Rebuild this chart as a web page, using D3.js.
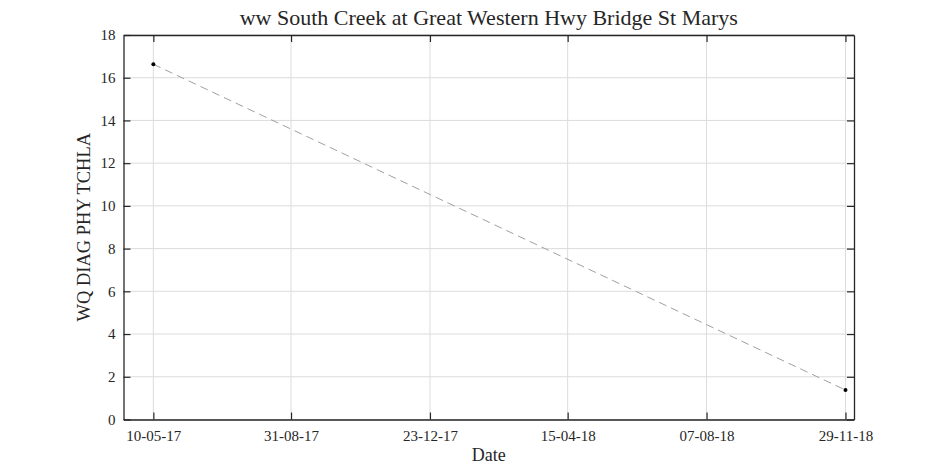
<!DOCTYPE html>
<html><head><meta charset="utf-8">
<script src="https://cdn.jsdelivr.net/npm/d3@7"></script>
<style>body{margin:0;background:#fff;} text{font-family:"Liberation Serif","Times New Roman",serif;fill:#262626;}</style>
</head><body><svg id="c" width="945" height="472"></svg>
<script>
const dates = ["2017-05-10", "2018-11-29"];
const values = [16.63, 1.38];
const xTickDates = ["2017-05-10", "2017-08-31", "2017-12-23", "2018-04-15", "2018-08-07", "2018-11-29"];
const xTickLabels = ["10-05-17", "31-08-17", "23-12-17", "15-04-18", "07-08-18", "29-11-18"];
const yTicks = [0, 2, 4, 6, 8, 10, 12, 14, 16, 18];
const title = "ww South Creek at Great Western Hwy Bridge St Marys";
const xLabel = "Date";
const yLabel = "WQ DIAG PHY TCHLA";

const parse = d3.utcParse("%Y-%m-%d");
const L = 123.5, R = 854, T = 35, B = 419.5;
const svg = d3.select("#c");
const x = d3.scaleUtc().domain([new Date(Date.UTC(2017,3,15,12)), new Date(Date.UTC(2018,11,6))]).range([L, R]);
const y = d3.scaleLinear().domain([0, 18]).range([B, T]);
const xt = xTickDates.map(parse);

// grid
const g = svg.append("g");
g.selectAll(".gx").data(xt).enter().append("line")
  .attr("x1", d => x(d)).attr("x2", d => x(d)).attr("y1", T).attr("y2", B)
  .attr("stroke", "#dcdcdc").attr("stroke-width", 1);
g.selectAll(".gy").data(yTicks).enter().append("line")
  .attr("x1", L).attr("x2", R).attr("y1", d => y(d)).attr("y2", d => y(d))
  .attr("stroke", "#dcdcdc").attr("stroke-width", 1);

// data line
const pts = dates.map((d, i) => ({d: parse(d), v: values[i]}));
svg.append("path").datum(pts)
  .attr("d", d3.line().x(p => x(p.d)).y(p => y(p.v)))
  .attr("fill", "none").attr("stroke", "#a0a0a0").attr("stroke-width", 1)
  .attr("stroke-dasharray", "8,5");
svg.selectAll(".pt").data(pts).enter().append("circle")
  .attr("cx", p => x(p.d)).attr("cy", p => y(p.v)).attr("r", 2).attr("fill", "#000");

// axes (inward ticks on all sides)
const fmt = (d, i) => xTickLabels[i];
svg.append("g").attr("transform", `translate(0,${B})`)
  .call(d3.axisBottom(x).tickValues(xt).tickFormat(fmt).tickSizeInner(-7).tickSizeOuter(0).tickPadding(11));
svg.append("g").attr("transform", `translate(0,${T})`)
  .call(d3.axisTop(x).tickValues(xt).tickFormat("").tickSizeInner(-7).tickSizeOuter(0));
svg.append("g").attr("transform", `translate(${L},0)`)
  .call(d3.axisLeft(y).tickValues(yTicks).tickFormat(d3.format("d")).tickSizeInner(-7).tickSizeOuter(0).tickPadding(8));
svg.append("g").attr("transform", `translate(${R},0)`)
  .call(d3.axisRight(y).tickValues(yTicks).tickFormat("").tickSizeInner(-7).tickSizeOuter(0));
svg.selectAll(".domain").attr("stroke", "#262626").attr("stroke-width", 1.3);
svg.selectAll(".tick line").attr("stroke", "#262626").attr("stroke-width", 1.2);
svg.selectAll(".tick text").style("font-size", "15px").attr("fill", "#262626");

svg.append("text").attr("x", (L + R) / 2).attr("y", 25).attr("text-anchor", "middle")
  .style("font-size", "22px").text(title);
svg.append("text").attr("x", (L + R) / 2).attr("y", 461).attr("text-anchor", "middle")
  .style("font-size", "18px").text(xLabel);
svg.append("text").attr("transform", `translate(90,${(T + B) / 2}) rotate(-90)`).attr("text-anchor", "middle")
  .style("font-size", "18.5px").text(yLabel);
</script></body></html>
